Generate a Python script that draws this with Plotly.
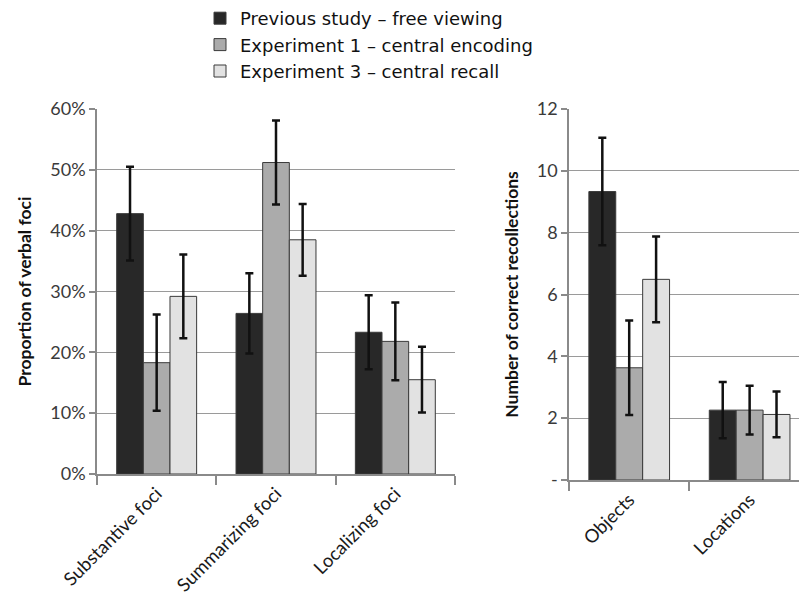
import plotly.graph_objects as go

# ---- data ----
series_names = ["Previous study – free viewing",
                "Experiment 1 – central encoding",
                "Experiment 3 – central recall"]
colors = ["#282828", "#ababab", "#e2e2e2"]

foci_categories = ["Substantive foci", "Summarizing foci", "Localizing foci"]
foci_values = [
    [42.8, 26.4, 23.3],   # previous study
    [18.3, 51.2, 21.8],   # experiment 1
    [29.2, 38.5, 15.5],   # experiment 3
]
foci_errors = [
    [7.7, 6.6, 6.1],
    [7.9, 6.9, 6.4],
    [6.9, 5.9, 5.4],
]
foci_ticks = [0, 10, 20, 30, 40, 50, 60]
foci_ticktext = ["0%", "10%", "20%", "30%", "40%", "50%", "60%"]

recall_categories = ["Objects", "Locations"]
recall_values = [
    [9.33, 2.26],
    [3.63, 2.26],
    [6.49, 2.12],
]
recall_errors = [
    [1.74, 0.91],
    [1.53, 0.79],
    [1.39, 0.74],
]
recall_ticks = [0, 2, 4, 6, 8, 10, 12]
recall_ticktext = ["-", "2", "4", "6", "8", "10", "12"]

W, H = 799, 603
fig = go.Figure()

for i, name in enumerate(series_names):
    fig.add_trace(go.Bar(
        x=foci_categories, y=foci_values[i], name=name,
        marker=dict(color=colors[i], line=dict(color="#3a3a3a", width=1)),
        error_y=dict(type="data", array=foci_errors[i], color="#111111",
                     thickness=2.5, width=4),
        xaxis="x", yaxis="y", showlegend=True, legendgroup=name))
for i, name in enumerate(series_names):
    fig.add_trace(go.Bar(
        x=recall_categories, y=recall_values[i], name=name,
        marker=dict(color=colors[i], line=dict(color="#3a3a3a", width=1)),
        error_y=dict(type="data", array=recall_errors[i], color="#111111",
                     thickness=2.5, width=4),
        xaxis="x2", yaxis="y2", showlegend=False, legendgroup=name))

tickfont = dict(family="Lato, Carlito, sans-serif", size=18, color="#3a3a3a")
catfont = dict(family="Lato, Carlito, sans-serif", size=18.5, color="#1a1a1a")
titlefont = dict(family="Lato, Carlito, sans-serif", size=17.5, color="#111111", weight="bold")

def px_x(p):
    return p / W

def px_y(p):
    return 1 - p / H

fig.update_layout(
    width=W, height=H,
    margin=dict(l=0, r=0, t=0, b=0, autoexpand=False),
    paper_bgcolor="white", plot_bgcolor="white",
    barmode="group", bargap=0.33, bargroupgap=0,
    legend=dict(x=px_x(200), y=px_y(0), xanchor="left", yanchor="top",
                font=dict(family="DejaVu Sans, Verdana, sans-serif", size=18, color="#111111"),
                tracegroupgap=0, itemwidth=30, bgcolor="rgba(0,0,0,0)"),
    xaxis=dict(domain=[px_x(97), px_x(455)], anchor="y", type="category",
               range=[-0.5, 2.5], tickangle=-45, tickfont=catfont, automargin=False,
               showline=True, linecolor="#8a8a8a", linewidth=1.5,
               ticks="outside", ticklen=9, tickcolor="#8a8a8a", tickwidth=1.5,
               tickson="boundaries", showgrid=False),
    yaxis=dict(domain=[px_y(474), px_y(109)], anchor="x", range=[0, 60],
               tickvals=foci_ticks, ticktext=foci_ticktext, tickfont=tickfont,
               automargin=False,
               showline=True, linecolor="#8a8a8a", linewidth=1.5,
               ticks="outside", ticklen=6, tickcolor="#8a8a8a", tickwidth=1.5,
               showgrid=True, gridcolor="#9a9a9a", gridwidth=1.2,
               zeroline=False,
               title=dict(text="Proportion of verbal foci", font=titlefont, standoff=14)),
    xaxis2=dict(domain=[px_x(569), 1.0], anchor="y2", type="category",
                range=[-0.5, 1.41], tickangle=-45, tickfont=catfont, automargin=False,
                showline=True, linecolor="#8a8a8a", linewidth=1.5,
                ticks="outside", ticklen=9, tickcolor="#8a8a8a", tickwidth=1.5,
                tickson="boundaries", showgrid=False),
    yaxis2=dict(domain=[px_y(480), px_y(109)], anchor="x2", range=[0, 12],
                tickvals=recall_ticks, ticktext=recall_ticktext, tickfont=tickfont,
                automargin=False,
                showline=True, linecolor="#8a8a8a", linewidth=1.5,
                ticks="outside", ticklen=6, tickcolor="#8a8a8a", tickwidth=1.5,
                showgrid=True, gridcolor="#9a9a9a", gridwidth=1.2,
                zeroline=False,
                title=dict(text="Number of correct recollections", font=titlefont, standoff=14)),
)

fig.write_html("out.html",
               config={"displayModeBar": False},
               post_script="document.body.style.margin='0';document.body.style.padding='0';")
